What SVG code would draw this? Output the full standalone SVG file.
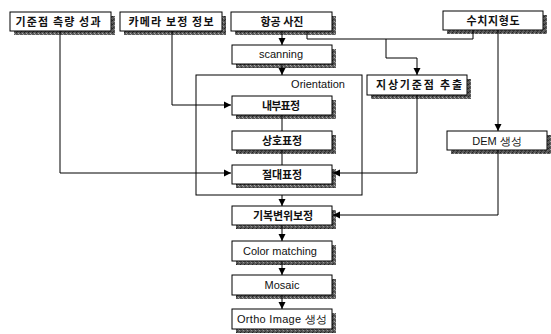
<svg xmlns="http://www.w3.org/2000/svg" width="551" height="334" viewBox="0 0 551 334">
<style>
.box{fill:#fff;stroke:#000;stroke-width:1}
.sh{fill:url(#tex)}
.kr{font-family:"Noto Sans CJK KR","Noto Sans",sans-serif;font-size:11px;font-weight:bold;fill:#111;text-anchor:middle}
.en{font-family:"Liberation Sans",Arial,sans-serif;font-size:11px;fill:#111;text-anchor:middle}
.ln{fill:none;stroke:#000;stroke-width:1}
.grp{fill:none;stroke:#000;stroke-width:1}
</style>
<defs>
<pattern id="tex" width="4" height="4" patternUnits="userSpaceOnUse">
<rect width="4" height="4" fill="#5a5a5a"/>
<rect x="0" y="0" width="1" height="1" fill="#222"/>
<rect x="2" y="1" width="1" height="1" fill="#aaa"/>
<rect x="1" y="3" width="1" height="1" fill="#333"/>
<rect x="3" y="2" width="1" height="1" fill="#999"/>
</pattern>
<marker id="ah" markerWidth="8" markerHeight="8" refX="7" refY="4" orient="auto" markerUnits="userSpaceOnUse">
<path d="M0,0.5 L7,4 L0,7.5 Z" fill="#000"/>
</marker>
</defs>
<rect width="551" height="334" fill="#fff"/>

<g id="orientation">
<rect class="grp" x="196" y="75" width="166" height="120"/>
<text class="en" x="318" y="88" font-size="12">Orientation</text>
</g>

<g id="n1">
<rect class="sh" x="14" y="16" width="101" height="19"/>
<rect class="box" x="10" y="12" width="101" height="19"/>
<text class="kr" x="58" y="26" textLength="85" lengthAdjust="spacing">기준점 측량 성과</text>
</g>
<g id="n2">
<rect class="sh" x="124" y="16" width="102" height="19"/>
<rect class="box" x="120" y="12" width="102" height="19"/>
<text class="kr" x="171" y="26" textLength="85" lengthAdjust="spacing">카메라 보정 정보</text>
</g>
<g id="n3">
<rect class="sh" x="235" y="16" width="101" height="19"/>
<rect class="box" x="231" y="12" width="101" height="19"/>
<text class="kr" x="282" y="26">항공 사진</text>
</g>
<g id="n4">
<rect class="sh" x="447" y="15" width="100" height="19"/>
<rect class="box" x="443" y="11" width="100" height="19"/>
<text class="kr" x="493" y="25" textLength="53" lengthAdjust="spacing">수치지형도</text>
</g>
<g id="scanning">
<rect class="sh" x="236" y="49" width="100" height="19"/>
<rect class="box" x="232" y="45" width="100" height="19"/>
<text class="en" x="281" y="58">scanning</text>
</g>
<g id="n_inner">
<rect class="sh" x="236" y="100" width="100" height="19"/>
<rect class="box" x="232" y="96" width="100" height="19"/>
<text class="kr" x="281" y="110" textLength="38" lengthAdjust="spacing">내부표정</text>
</g>
<g id="n_relative">
<rect class="sh" x="236" y="135" width="100" height="19"/>
<rect class="box" x="232" y="131" width="100" height="19"/>
<text class="kr" x="282" y="145" textLength="40" lengthAdjust="spacing">상호표정</text>
</g>
<g id="n_absolute">
<rect class="sh" x="236" y="169" width="100" height="19"/>
<rect class="box" x="232" y="165" width="100" height="19"/>
<text class="kr" x="282" y="179" textLength="40" lengthAdjust="spacing">절대표정</text>
</g>
<g id="n_relief">
<rect class="sh" x="236" y="210" width="100" height="19"/>
<rect class="box" x="232" y="206" width="100" height="19"/>
<text class="kr" x="283" y="220" textLength="60" lengthAdjust="spacing">기복변위보정</text>
</g>
<g id="n_color">
<rect class="sh" x="236" y="245" width="100" height="20"/>
<rect class="box" x="232" y="241" width="100" height="20"/>
<text class="en" x="280" y="255">Color matching</text>
</g>
<g id="n_mosaic">
<rect class="sh" x="236" y="279" width="100" height="20"/>
<rect class="box" x="232" y="275" width="100" height="20"/>
<text class="en" x="282" y="289">Mosaic</text>
</g>
<g id="n_ortho">
<rect class="sh" x="236" y="313" width="100" height="20"/>
<rect class="box" x="232" y="309" width="100" height="20"/>
<text class="en" x="282" y="323" textLength="90" lengthAdjust="spacing">Ortho Image 생성</text>
</g>
<g id="n_gcp">
<rect class="sh" x="371" y="79" width="100" height="20"/>
<rect class="box" x="367" y="75" width="100" height="20"/>
<text class="kr" x="419" y="89" textLength="86" lengthAdjust="spacing">지상기준점 추출</text>
</g>
<g id="n_dem">
<rect class="sh" x="451" y="135" width="100" height="19"/>
<rect class="box" x="447" y="131" width="100" height="19"/>
<text class="en" x="497" y="145">DEM 생성</text>
</g>

<g id="connectors">
<path class="ln" d="M60 31 V173 H231" marker-end="url(#ah)"/>
<path class="ln" d="M172 31 V105 H231" marker-end="url(#ah)"/>
<path class="ln" d="M282 31 V45" marker-end="url(#ah)"/>
<path class="ln" d="M282 64 V75" marker-end="url(#ah)"/>
<path class="ln" d="M282 115 V131"/>
<path class="ln" d="M282 150 V165"/>
<path class="ln" d="M282 195 V206" marker-end="url(#ah)"/>
<path class="ln" d="M282 225 V241" marker-end="url(#ah)"/>
<path class="ln" d="M282 261 V275" marker-end="url(#ah)"/>
<path class="ln" d="M282 295 V309" marker-end="url(#ah)"/>
<path class="ln" d="M307 31 V39 H473 V30"/>
<path class="ln" d="M386 39 V58 H417 V75" marker-end="url(#ah)"/>
<path class="ln" d="M498 30 V131" marker-end="url(#ah)"/>
<path class="ln" d="M417 95 V173 H333" marker-end="url(#ah)"/>
<path class="ln" d="M498 150 V215 H333" marker-end="url(#ah)"/>
</g>
</svg>
